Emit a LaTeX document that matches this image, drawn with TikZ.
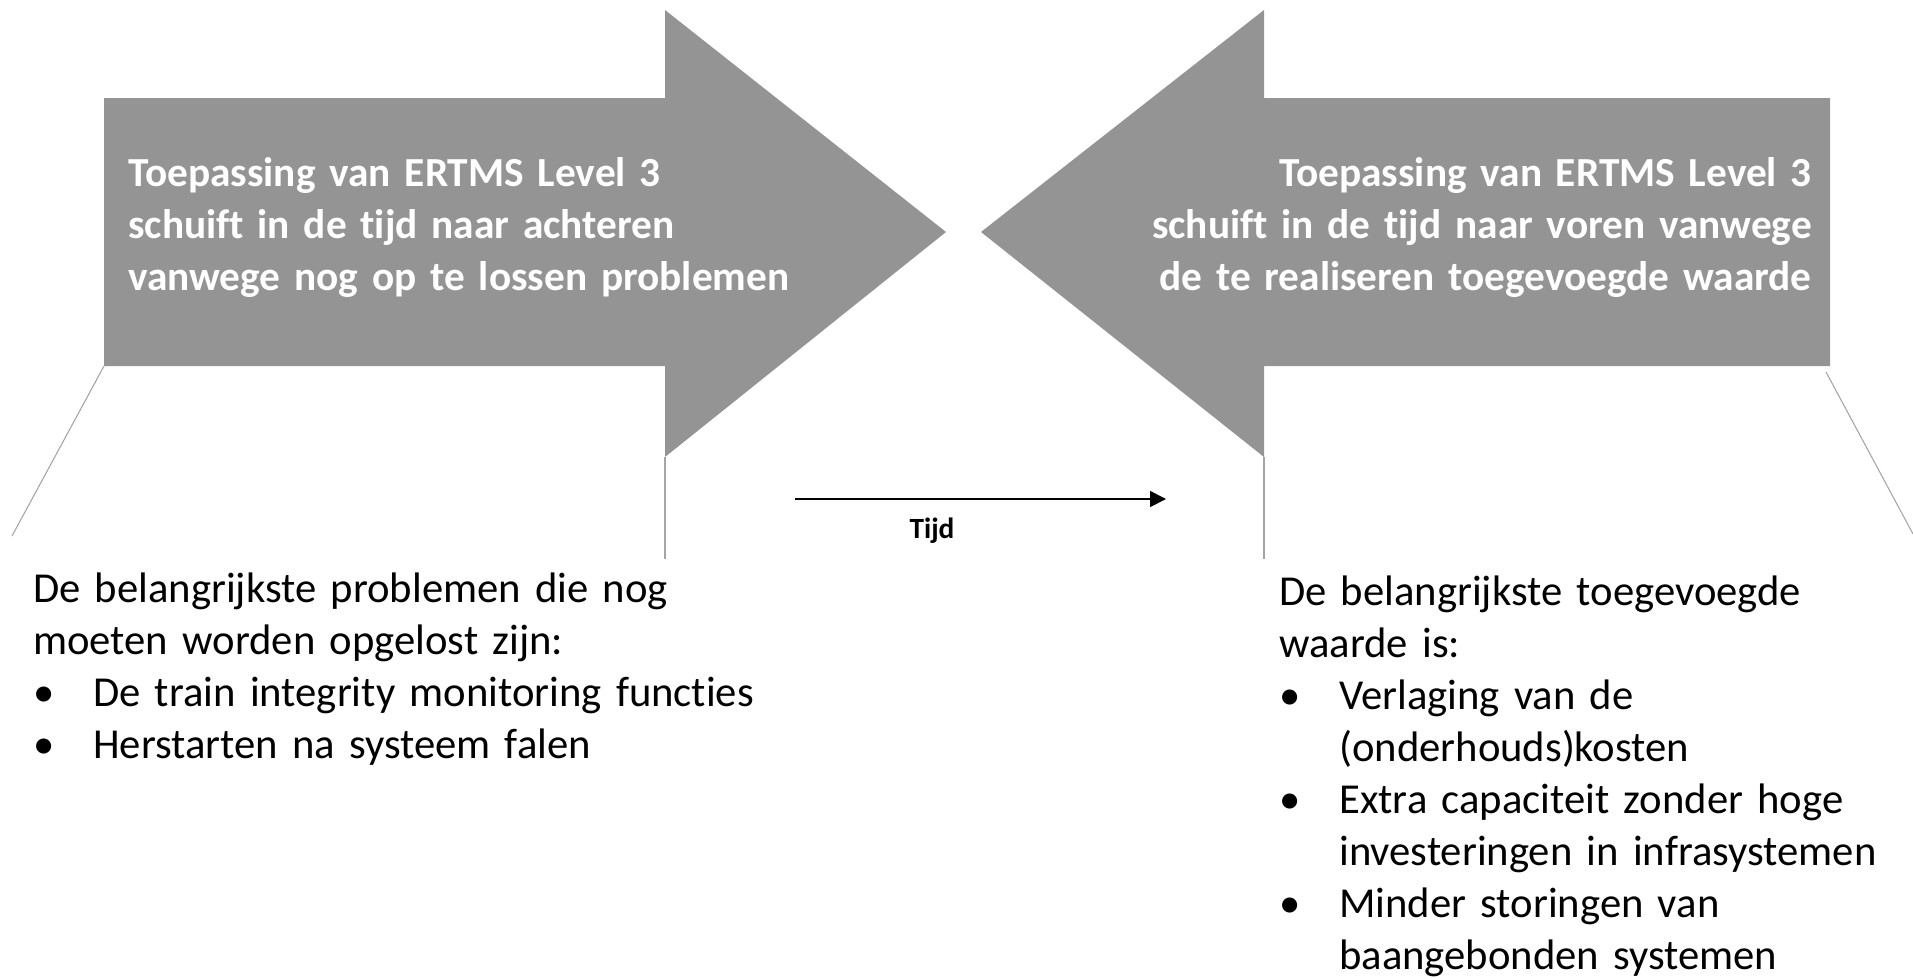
\documentclass[tikz,border=0pt]{standalone}
\usepackage{fontspec}
\setmainfont{Carlito}[Ligatures=NoCommon]
\usetikzlibrary{arrows.meta}
\definecolor{arrowgray}{RGB}{148,148,148}
\definecolor{linegray}{RGB}{165,165,165}

\begin{document}
\begin{tikzpicture}[x=0.75pt, y=-0.75pt,
  bigarrow/.style={fill=arrowgray},
  thinline/.style={draw=linegray, line width=0.8pt},
  title/.style={text=white, font=\fontsize{31}{39}\selectfont\bfseries, inner sep=0pt, text width=530pt},
  bodytext/.style={font=\fontsize{32}{39}\selectfont, inner sep=0pt, text width=600pt, align=left, anchor=base west}]
  \useasboundingbox (0,0) rectangle (1913,978);
  % the two big arrows
  \fill[bigarrow] (104,98) -- (665,98) -- (665,10) -- (946,232) -- (665,457) -- (665,366) -- (104,366) -- cycle;
  \fill[bigarrow] (1830,98) -- (1264,98) -- (1264,10) -- (981,232) -- (1264,457) -- (1264,366) -- (1830,366) -- cycle;
  \node[title, align=left, anchor=base west] (later) at (128,186)
    {Toepassing van ERTMS Level 3\\schuift in de tijd naar achteren\\vanwege nog op te lossen problemen};
  \node[title, align=right, anchor=base east] (sooner) at (1812,186)
    {Toepassing van ERTMS Level 3\\schuift in de tijd naar voren vanwege\\de te realiseren toegevoegde waarde};
  % thin lines under the arrows
  \draw[thinline] (104,366) -- (12,536);
  \draw[thinline] (665,457) -- (665,559);
  \draw[thinline] (1264,457) -- (1264,559);
  \draw[thinline] (1826,372) -- (1913,534);
  % time axis
  \coordinate (tstart) at (795,499);
  \coordinate (tend) at (1166,499);
  \draw[line width=1.3pt, -{Triangle[length=12pt,width=12pt]}] (tstart) -- (tend);
  \node[font=\fontsize{22}{26}\selectfont\bfseries, anchor=base, inner sep=0pt] (tijd) at (932,538) {Tijd};
  % texts below
  \node[bodytext] (problems) at (33,602)
    {De belangrijkste problemen die nog\\moeten worden opgelost zijn:\\
     \makebox[45pt][l]{•}De train integrity monitoring functies\\
     \makebox[45pt][l]{•}Herstarten na systeem falen};
  \node[bodytext] (value) at (1279,605)
    {De belangrijkste toegevoegde\\waarde is:\\
     \makebox[45pt][l]{•}Verlaging van de\\\hspace*{45pt}(onderhouds)kosten\\
     \makebox[45pt][l]{•}Extra capaciteit zonder hoge\\\hspace*{45pt}investeringen in infrasystemen\\
     \makebox[45pt][l]{•}Minder storingen van\\\hspace*{45pt}baangebonden systemen};
\end{tikzpicture}
\end{document}
